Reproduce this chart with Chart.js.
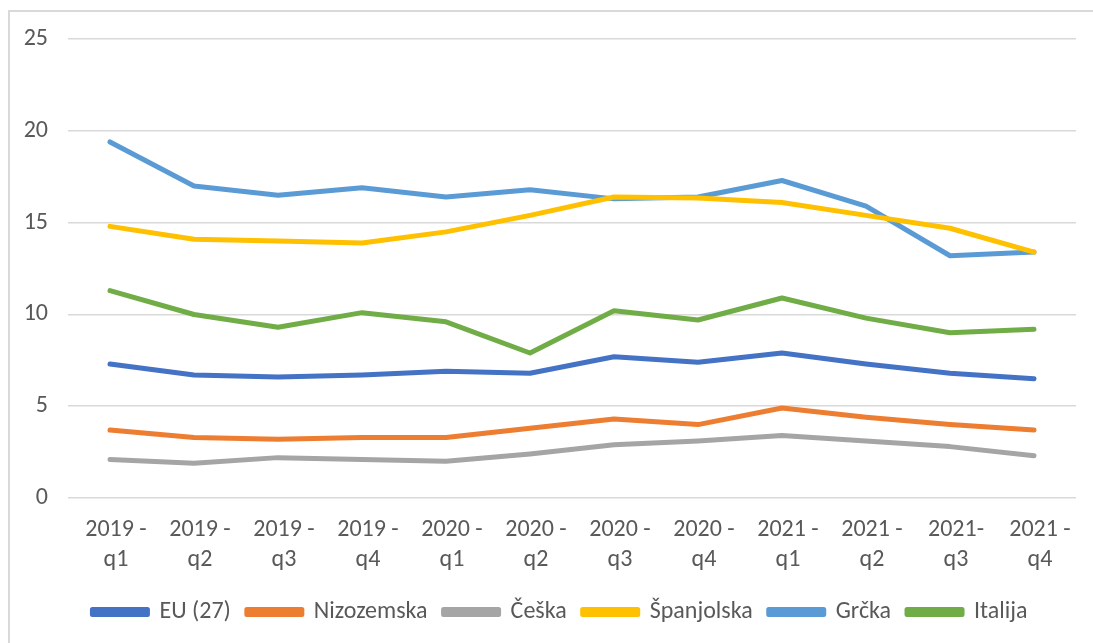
<!DOCTYPE html>
<html>
<head>
<meta charset="utf-8">
<script src="https://cdn.jsdelivr.net/npm/chart.js@4"></script>
<style>
  html, body { margin: 0; padding: 0; background: #fff; overflow: hidden; }
  #okvir { position: absolute; left: 8px; top: 10px; width: 1100px; height: 650px; border: 2px solid #d9d9d9; }
</style>
</head>
<body>
<div id="okvir"><canvas id="grafikon" width="1090" height="640"></canvas></div>
<script>
// podaci ocitani s grafikona
var kvartali = [["2019 -", "q1"], ["2019 -", "q2"], ["2019 -", "q3"], ["2019 -", "q4"],
                ["2020 -", "q1"], ["2020 -", "q2"], ["2020 -", "q3"], ["2020 -", "q4"],
                ["2021 -", "q1"], ["2021 -", "q2"], ["2021-", "q3"], ["2021 -", "q4"]];
var eu27 =       [7.3, 6.7, 6.6, 6.7, 6.9, 6.8, 7.7, 7.4, 7.9, 7.3, 6.8, 6.5];
var nizozemska = [3.7, 3.3, 3.2, 3.3, 3.3, 3.8, 4.3, 4.0, 4.9, 4.4, 4.0, 3.7];
var ceska =      [2.1, 1.9, 2.2, 2.1, 2.0, 2.4, 2.9, 3.1, 3.4, 3.1, 2.8, 2.3];
var spanjolska = [14.8, 14.1, 14.0, 13.9, 14.5, 15.4, 16.4, 16.35, 16.1, 15.4, 14.7, 13.4];
var grcka =      [19.4, 17.0, 16.5, 16.9, 16.4, 16.8, 16.3, 16.4, 17.3, 15.9, 13.2, 13.4];
var italija =    [11.3, 10.0, 9.3, 10.1, 9.6, 7.9, 10.2, 9.7, 10.9, 9.8, 9.0, 9.2];
var yOznake = [0, 5, 10, 15, 20, 25];

var ctx = document.getElementById("grafikon").getContext("2d");
var font = "Carlito, Lato, sans-serif";

function serija(naziv, podaci, boja) {
  return {
    label: naziv,
    data: podaci,
    borderColor: boja,
    backgroundColor: boja,
    borderWidth: 5,
    pointRadius: 0,
    tension: 0,
    borderCapStyle: "round",
    borderJoinStyle: "round"
  };
}

// legenda malo udesno, kao u Excelu
var pomakLegende = {
  id: "pomakLegende",
  afterLayout: function (c) {
    c.legend.left += 17;
    c.legend.right += 17;
  }
};

var chart = new Chart(ctx, {
  type: "line",
  data: {
    labels: kvartali,
    datasets: [
      serija("EU (27)", eu27, "#4472c4"),
      serija("Nizozemska", nizozemska, "#ed7d31"),
      serija("Češka", ceska, "#a5a5a5"),
      serija("Španjolska", spanjolska, "#ffc000"),
      serija("Grčka", grcka, "#5b9bd5"),
      serija("Italija", italija, "#70ad47")
    ]
  },
  plugins: [pomakLegende],
  options: {
    responsive: false,
    animation: false,
    layout: { padding: { top: 15, right: 24, left: 0, bottom: 18 } },
    scales: {
      x: {
        offset: true,
        afterFit: function (s) { s.height = 86; },
        grid: { display: false, drawTicks: false },
        border: { display: false },
        ticks: {
          color: "#595959",
          font: { family: font, size: 24, lineHeight: 1.25 },
          padding: 17,
          labelOffset: 6,
          maxRotation: 0,
          autoSkip: false
        }
      },
      y: {
        min: 0,
        max: 25,
        afterFit: function (s) { s.width = 58; },
        afterBuildTicks: function (s) { s.ticks = yOznake.map(function (v) { return { value: v }; }); },
        grid: { color: "#d9d9d9", lineWidth: 1.5, drawTicks: false },
        border: { display: false },
        ticks: {
          color: "#595959",
          font: { family: font, size: 24, lineHeight: 0.6 },
          padding: 20
        }
      }
    },
    plugins: {
      tooltip: { enabled: false },
      legend: {
        position: "bottom",
        labels: {
          color: "#595959",
          font: { family: font, size: 24 },
          boxWidth: 55,
          boxHeight: 5,
          padding: 16
        }
      }
    }
  }
});
</script>
</body>
</html>
